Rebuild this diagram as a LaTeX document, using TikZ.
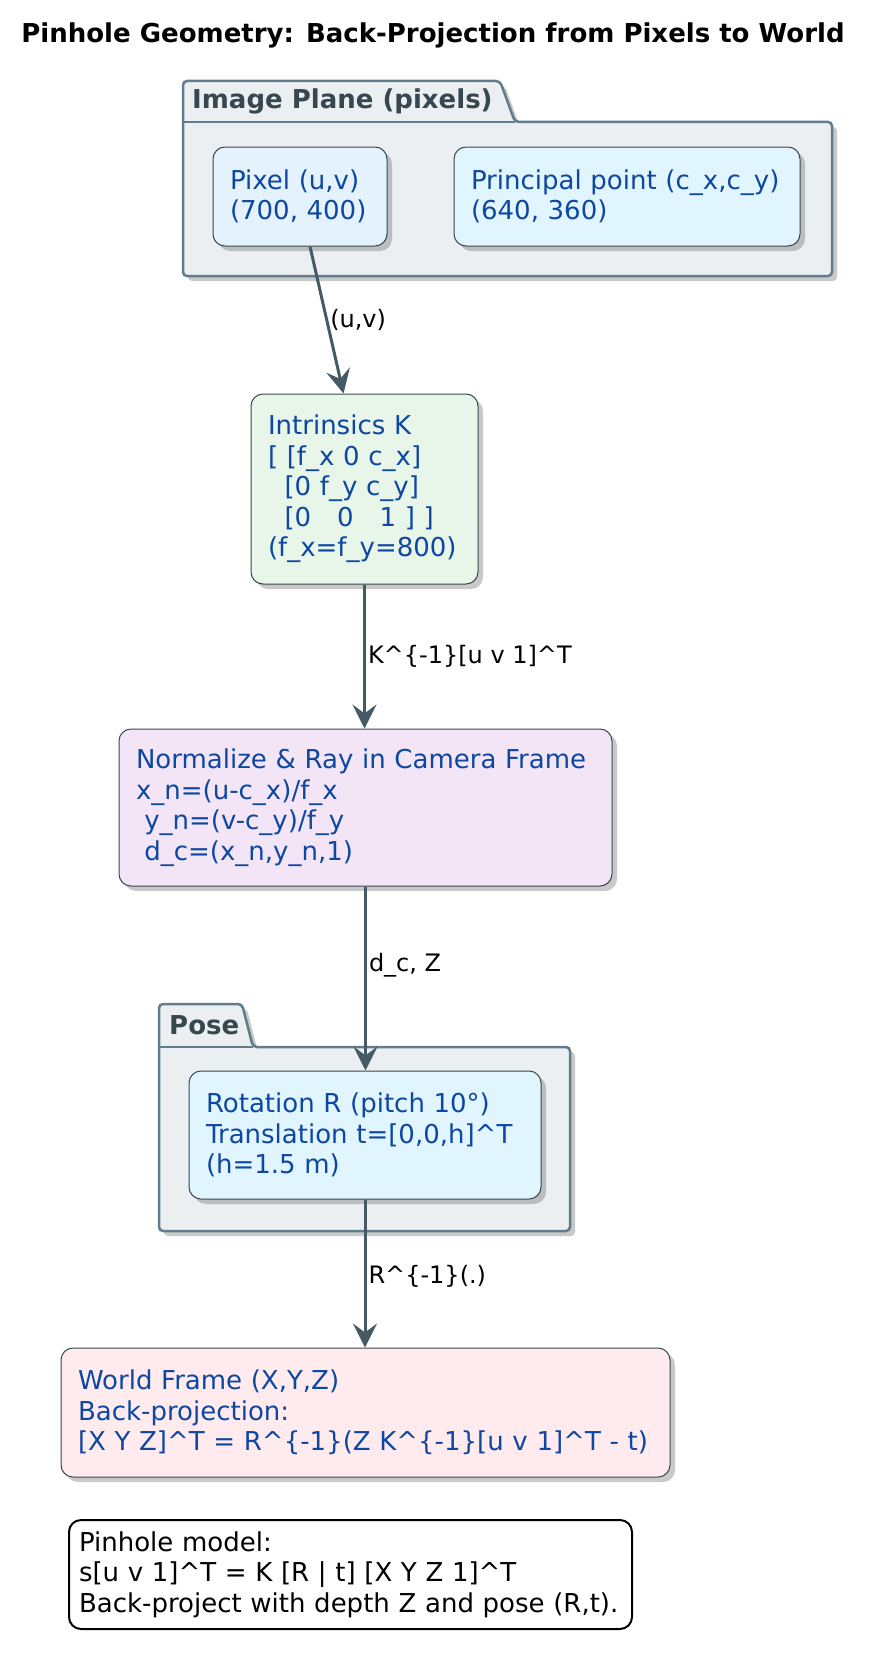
\documentclass[tikz,border=0pt]{standalone}
\usepackage{fontspec}
\setmainfont{DejaVu Sans}
\usepackage{tikz}
\usetikzlibrary{positioning,arrows.meta,calc,shadows}
\definecolor{pkgfill}{HTML}{ECEFF1}
\definecolor{pkgline}{HTML}{607D8B}
\definecolor{pkgtext}{HTML}{37474F}
\definecolor{nodeblue}{HTML}{0D47A1}
\definecolor{boxline}{HTML}{37474F}
\definecolor{flowc}{HTML}{455A64}
\definecolor{pixfill}{HTML}{E3F2FD}
\definecolor{ppfill}{HTML}{E1F5FE}
\definecolor{intrfill}{HTML}{E8F5E9}
\definecolor{normfill}{HTML}{F3E5F5}
\definecolor{worldfill}{HTML}{FFEBEE}
\newcommand{\crt}{\textasciicircum}
\newcommand{\leadsp}{\hspace*{0.318em}}
\newcommand{\boxfont}{\fontsize{26}{30.5}\selectfont}
\newcommand{\lblfont}{\fontsize{24}{28}\selectfont}
\tikzset{
  box/.style={draw=boxline, line width=1pt, rounded corners=12pt, text=nodeblue,
              align=left, inner xsep=17pt, inner ysep=0pt, font=\boxfont,
              drop shadow={shadow xshift=5pt, shadow yshift=-5pt, opacity=0.3, fill=black!70}},
  note/.style={draw=black, line width=2pt, rounded corners=12pt, fill=white, text=black,
               align=left, inner xsep=10pt, inner ysep=0pt, font=\boxfont},
  pkg/.style={draw=pkgline, line width=2.5pt, fill=pkgfill, rounded corners=4pt,
              drop shadow={shadow xshift=5pt, shadow yshift=-5pt, opacity=0.3, fill=black!70}},
  pkgtitle/.style={font=\boxfont\bfseries, text=pkgtext, anchor=west, inner sep=0pt},
  flow/.style={draw=flowc, line width=3pt, -{Stealth[length=24pt, width=24pt, inset=9pt]}},
  lbl/.style={font=\lblfont, text=black, anchor=west, inner sep=2pt},
  ttl/.style={font=\boxfont\bfseries, text=black},
}
\begin{document}
\begin{tikzpicture}[x=1pt, y=-1pt]
  \useasboundingbox (0,0) rectangle (879,1667);
  \node[ttl] (title) at (433,35) {Pinhole Geometry: Back-Projection from Pixels to World};

  \draw[pkg] (183,122) -- (183,81) -- (500,81) -- (515,122) -- (832,122)
             -- (832,276) -- (183,276) -- cycle;
  \draw[pkgline, line width=2.5pt] (183,122) -- (515,122);
  \node[pkgtitle] (imgtab) at (192,101) {Image Plane (pixels)};

  \draw[pkg] (159,1047) -- (159,1004) -- (242,1004) -- (253,1047) -- (570,1047)
             -- (570,1231) -- (159,1231) -- cycle;
  \draw[pkgline, line width=2.5pt] (159,1047) -- (253,1047);
  \node[pkgtitle] (posetab) at (169,1025) {Pose};

  \node[box, fill=pixfill, minimum width=174pt, minimum height=99pt, text width=140pt]
    (pix) at (300,196.5) {Pixel (u,v)\\(700, 400)};
  \node[box, fill=ppfill, minimum width=346pt, minimum height=99pt, text width=312pt]
    (pp) at (627,196.5) {Principal point (c\_x,c\_y)\\(640, 360)};
  \node[box, fill=intrfill, minimum width=227pt, minimum height=190pt, text width=193pt]
    (intr) at (364.5,489) {Intrinsics K\\{[} [f\_x 0 c\_x]\\\leadsp\leadsp[0 f\_y c\_y]\\\leadsp\leadsp[0\ \ \ 0\ \ \ 1 ] ]\\(f\_x=f\_y=800)};
  \node[box, fill=normfill, minimum width=493pt, minimum height=157pt, text width=459pt]
    (norm) at (365.5,807.5) {Normalize \& Ray in Camera Frame\\x\_n=(u-c\_x)/f\_x\\\leadsp y\_n=(v-c\_y)/f\_y\\\leadsp d\_c=(x\_n,y\_n,1)};
  \node[box, fill=ppfill, minimum width=352pt, minimum height=128pt, text width=318pt]
    (rot) at (365,1135) {Rotation R (pitch 10°)\\Translation t=[0,0,h]\crt T\\(h=1.5 m)};
  \node[box, fill=worldfill, minimum width=609pt, minimum height=129pt, text width=575pt]
    (world) at (365.5,1412.5) {World Frame (X,Y,Z)\\Back-projection:\\{[}X Y Z]\crt T = R\crt\{-1\}(Z K\crt\{-1\}[u v 1]\crt T - t)};
  \node[note, minimum width=563pt, minimum height=109pt, text width=543pt]
    (pinnote) at (350.5,1574.5) {Pinhole model:\\s[u v 1]\crt T = K [R \textbar{} t] [X Y Z 1]\crt T\\Back-project with depth Z and pose (R,t).};

  \draw[flow] ([xshift=10pt]pix.south) -- node[lbl]{(u,v)} ([xshift=-21pt]intr.north);
  \draw[flow] (intr.south) -- node[lbl]{K\crt\{-1\}[u v 1]\crt T} (intr.south |- norm.north);
  \draw[flow] (norm.south) -- node[lbl, pos=0.43]{d\_c, Z} (norm.south |- rot.north);
  \draw[flow] (rot.south) -- node[lbl, pos=0.52]{R\crt\{-1\}(.)} (rot.south |- world.north);
\end{tikzpicture}
\end{document}
